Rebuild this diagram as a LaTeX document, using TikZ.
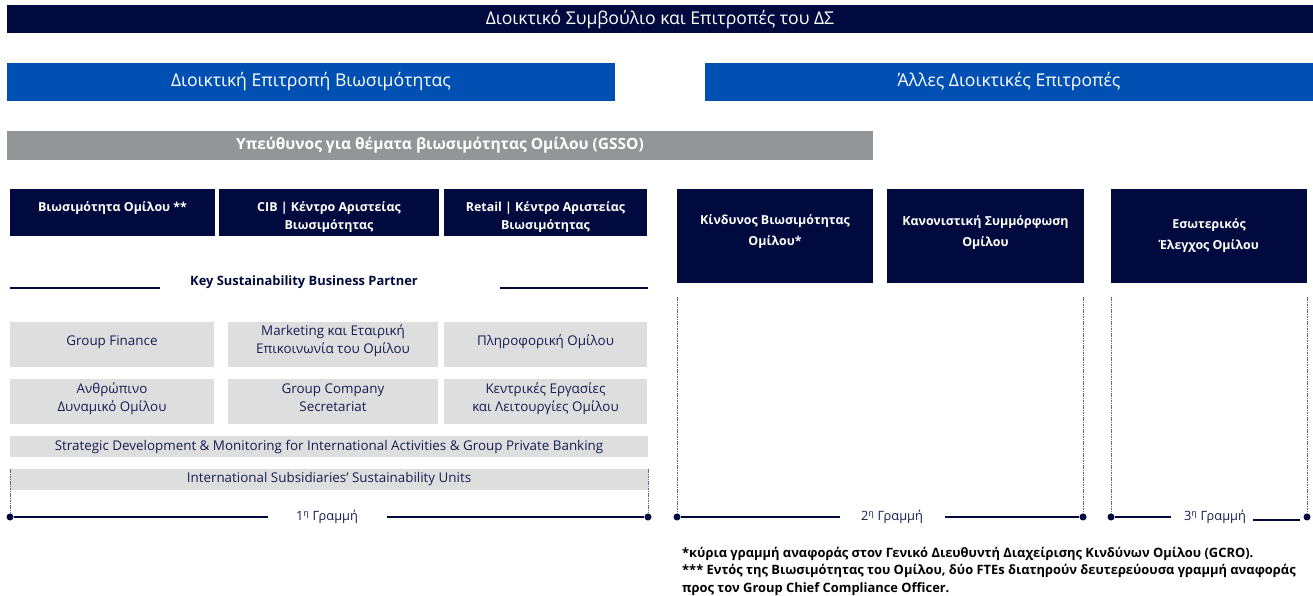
\documentclass[tikz,border=0pt]{standalone}
\usepackage{fontspec}
\setmainfont{Open Sans}
\usetikzlibrary{positioning}
\definecolor{navy}{RGB}{0,10,62}
\definecolor{brandblue}{RGB}{0,80,180}
\definecolor{midgrey}{RGB}{147,149,152}
\definecolor{lightgrey}{RGB}{222,222,222}
\definecolor{ink}{RGB}{22,30,82}
\definecolor{guidegrey}{RGB}{96,102,140}
\tikzset{
    box/.style={rectangle,inner sep=0pt,align=center},
    board/.style={box,fill=navy,text=white,minimum width=1306pt,minimum height=28pt,font=\fontsize{17.6}{19}\selectfont},
    committee/.style={box,fill=brandblue,text=white,minimum width=608pt,minimum height=38pt,font=\fontsize{17.6}{19}\selectfont},
    officer/.style={box,fill=midgrey,text=white,minimum width=866pt,minimum height=29pt,font=\fontsize{15.5}{17}\bfseries\selectfont},
    unit/.style={box,fill=navy,text=white,minimum height=47pt,text height=10pt,text depth=12pt,font=\fontsize{12.4}{18}\bfseries\selectfont},
    twin/.style={text height=40pt,text depth=6pt},
    control/.style={box,fill=navy,text=white,minimum height=94pt,text height=31pt,text depth=10pt,font=\fontsize{12.4}{21}\bfseries\selectfont},
    partner/.style={box,fill=lightgrey,text=ink,minimum height=45pt,text height=10pt,text depth=8pt,font=\fontsize{13.4}{18}\selectfont},
    pair/.style={text height=29pt,text depth=10pt},
    band/.style={box,fill=lightgrey,text=ink,minimum width=638pt,minimum height=21pt,font=\fontsize{13.4}{15}\selectfont},
    caption/.style={box,text=navy,font=\fontsize{12.9}{15}\bfseries\selectfont},
    linelabel/.style={box,text=ink,font=\fontsize{12.8}{15}\selectfont},
    footnote/.style={box,align=left,anchor=north west,text=black,font=\fontsize{12.9}{17.5}\bfseries\selectfont},
    dot/.style={circle,fill=navy,inner sep=0pt,minimum size=7pt},
    guide/.style={guidegrey,line width=0.9pt,dash pattern=on 1.6pt off 0.8pt},
    rule/.style={navy,line width=1.1pt},
}

\begin{document}
\begin{tikzpicture}[x=1pt,y=-1pt]
        \useasboundingbox (0,0) rectangle (1313,596);
        \node[board] (bod) at (660,19.5) {Διοικτικό Συμβούλιο και Επιτροπές του ΔΣ};
        \node[committee] (susc) at (311,82) {Διοικτική Επιτροπή Βιωσιμότητας};
        \node[committee] (othc) at (1009,82) {Άλλες Διοικτικές Επιτροπές};
        \node[officer] (gsso) at (440,145.5) {Υπεύθυνος για θέματα βιωσιμότητας Ομίλου (GSSO)};

        \node[unit,minimum width=205pt] (gsu) at (112.5,212.5) {Βιωσιμότητα Ομίλου **};
        \node[unit,twin,minimum width=220pt] (cib) at (329,212.5) {CIB | Κέντρο Αριστείας\\Βιωσιμότητας};
        \node[unit,twin,minimum width=203pt] (ret) at (545.5,212.5) {Retail | Κέντρο Αριστείας\\Βιωσιμότητας};

        \node[control,minimum width=196pt,text height=30pt] (risk) at (775,235.5) {Κίνδυνος Βιωσιμότητας\\Ομίλου*};
        \node[control,minimum width=197pt] (comp) at (985.5,235.5) {Κανονιστική Συμμόρφωση\\Ομίλου};
        \node[control,minimum width=196pt,text height=38pt] (audit) at (1209,235.5) {Εσωτερικός\\Έλεγχος Ομίλου};

        \node[caption] (ksbp) at (304,282) {Key Sustainability Business Partner};
        \coordinate (k1) at (10,288);
        \coordinate (k2) at (160,288);
        \coordinate (k3) at (500,288);
        \coordinate (k4) at (648,288);
        \draw[rule] (k1) -- (k2);
        \draw[rule] (k3) -- (k4);

        \node[partner,minimum width=204pt] (fin) at (112,344.5) {Group Finance};
        \node[partner,pair,minimum width=210pt,text height=28pt] (mkt) at (333,344.5) {Marketing και Εταιρική\\Επικοινωνία του Ομίλου};
        \node[partner,minimum width=203pt] (it) at (545.5,344.5) {Πληροφορική Ομίλου};
        \node[partner,pair,minimum width=204pt] (hr) at (112,401.5) {Ανθρώπινο\\Δυναμικό Ομίλου};
        \node[partner,pair,minimum width=210pt] (sec) at (333,401.5) {Group Company\\Secretariat};
        \node[partner,pair,minimum width=203pt] (ops) at (545.5,401.5) {Κεντρικές Εργασίες\\και Λειτουργίες Ομίλου};
        \node[band] (intl) at (329,446.5) {Strategic Development \& Monitoring for International Activities \& Group Private Banking};
        \node[band] (subs) at (329,479) {International Subsidiaries’ Sustainability Units};

        \node[dot] (a1) at (10,517) {};
        \node[dot] (b1) at (648,517) {};
        \node[dot] (a2) at (677,517) {};
        \node[dot] (b2) at (1083,517) {};
        \node[dot] (a3) at (1111,517) {};
        \node[dot] (b3) at (1307,517) {};
        \coordinate (t1a) at (10,469);
        \coordinate (t1b) at (648,469);
        \coordinate (t2a) at (677,297);
        \coordinate (t2b) at (1083,297);
        \coordinate (t3a) at (1111,297);
        \coordinate (t3b) at (1307,297);
        \draw[guide] (t1a) -- (a1);
        \draw[guide] (t1b) -- (b1);
        \draw[guide] (t2a) -- (a2);
        \draw[guide] (t2b) -- (b2);
        \draw[guide] (t3a) -- (a3);
        \draw[guide] (t3b) -- (b3);

        \node[linelabel] (l1) at (327,517) {1\textsuperscript{η} Γραμμή};
        \node[linelabel] (l2) at (892,517) {2\textsuperscript{η} Γραμμή};
        \node[linelabel] (l3) at (1215,517) {3\textsuperscript{η} Γραμμή};
        \coordinate (g1a) at (268,517);
        \coordinate (g1b) at (387,517);
        \coordinate (g2a) at (840,517);
        \coordinate (g2b) at (945,517);
        \coordinate (g3a) at (1171,517);
        \coordinate (g3b) at (1253,520);
        \coordinate (g3c) at (1300,520);
        \draw[rule] (a1) -- (g1a);
        \draw[rule] (g1b) -- (b1);
        \draw[rule] (a2) -- (g2a);
        \draw[rule] (g2b) -- (b2);
        \draw[rule] (a3) -- (g3a);
        \draw[rule] (g3b) -- (g3c);

        \node[footnote] (notes) at (682,547) {*κύρια γραμμή αναφοράς στον Γενικό Διευθυντή Διαχείρισης Κινδύνων Ομίλου (GCRO).\\*** Εντός της Βιωσιμότητας του Ομίλου, δύο FTEs διατηρούν δευτερεύουσα γραμμή αναφοράς\\προς τον Group Chief Compliance Officer.};
\end{tikzpicture}
\end{document}
